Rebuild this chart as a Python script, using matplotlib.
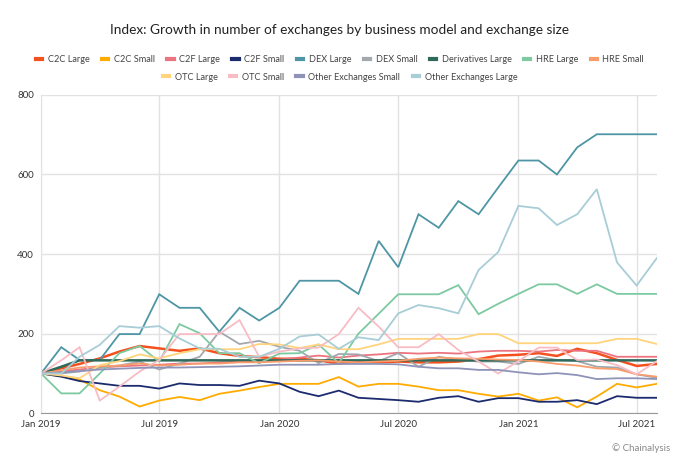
import matplotlib
matplotlib.use("Agg")
import matplotlib.pyplot as plt
import matplotlib.dates as mdates
from matplotlib.lines import Line2D
import pandas as pd

months = pd.date_range("2019-01-01", "2021-08-01", freq="MS")

c2c_large = [100,113,124,138,155,169,163,157,163,151,144,141,137,137,133,125,130,128,130,128,128,130,136,145,147,151,144,162,151,134,119,124]
c2c_small = [100,93,85,58,42,17,32,41,33,49,57,66,74,74,74,91,67,74,74,67,58,58,49,42,49,32,40,15,42,74,65,74]
c2f_large = [100,105,110,115,118,120,122,125,125,128,130,132,135,140,145,140,145,148,152,150,152,150,155,157,157,155,159,157,157,142,142,142]
c2f_small = [100,92,81,75,69,69,62,75,71,71,69,82,75,54,43,57,39,36,33,29,39,43,29,38,38,29,29,33,23,43,39,39]
dex_large = [100,166,134,134,199,199,299,265,265,205,265,233,265,333,333,333,300,433,367,500,466,533,500,567,635,635,600,668,701,701,701,701]
dex_small = [100,100,105,115,120,130,110,125,142,205,174,182,167,157,126,149,148,131,151,117,142,134,130,130,124,142,134,131,117,115,98,89]
deriv_large = [100,117,133,133,133,133,133,133,133,133,133,133,133,133,133,133,133,133,133,133,133,133,133,133,133,133,133,133,133,133,133,133]
hre_large = [100,50,50,100,151,169,130,224,201,151,151,126,150,151,173,126,200,250,299,299,299,322,249,275,300,324,324,300,324,300,300,300]
hre_small = [100,108,115,118,120,125,120,122,125,125,128,128,130,132,133,130,128,130,132,137,140,138,137,135,134,130,124,120,113,111,98,92]
otc_large = [100,95,88,121,131,148,138,151,161,161,161,174,173,164,173,161,161,173,187,187,187,187,199,199,176,176,176,176,176,187,187,174]
otc_small = [100,133,166,32,67,105,134,199,199,199,234,142,155,163,165,199,265,218,166,166,199,159,130,100,131,165,165,134,135,121,98,131]
other_small = [100,103,106,110,112,114,115,115,116,117,118,120,122,122,122,124,124,124,123,117,113,113,109,109,103,98,101,96,86,88,88,86]
other_large = [100,100,142,172,219,215,219,188,163,162,142,142,162,193,198,162,191,184,251,272,264,251,360,405,521,515,473,500,563,379,321,390]

series = [
    ("C2C Large", c2c_large, "#f4511e", 1.8),
    ("C2C Small", c2c_small, "#ffab00", 1.3),
    ("C2F Large", c2f_large, "#ec7480", 1.3),
    ("C2F Small", c2f_small, "#1c2b6e", 1.3),
    ("DEX Large", dex_large, "#4e96a5", 1.3),
    ("DEX Small", dex_small, "#a3a7ae", 1.3),
    ("Derivatives Large", deriv_large, "#2f6b5b", 1.8),
    ("HRE Large", hre_large, "#7dc9a1", 1.3),
    ("HRE Small", hre_small, "#f99c6c", 1.3),
    ("OTC Large", otc_large, "#ffd47c", 1.3),
    ("OTC Small", otc_small, "#f8bcc4", 1.3),
    ("Other Exchanges Small", other_small, "#8f93b8", 1.3),
    ("Other Exchanges Large", other_large, "#a8cdd6", 1.3),
]

plt.rcParams['font.family'] = ['Lato', 'DejaVu Sans']

fig = plt.figure(figsize=(6.8, 4.67), dpi=100)
ax = fig.add_axes([0.0603, 0.115, 0.9057, 0.6819])

for name, vals, color, lw in series:
    ax.plot(months, vals, color=color, lw=lw, label=name, solid_joinstyle="miter")

ax.set_ylim(0, 800)
ax.set_yticks([0, 200, 400, 600, 800])
ax.set_xlim(months[0], months[-1])
ticks = pd.to_datetime(["2019-01-01", "2019-07-01", "2020-01-01", "2020-07-01", "2021-01-01", "2021-07-01"])
ax.set_xticks(ticks)
ax.set_xticklabels(["Jan 2019", "Jul 2019", "Jan 2020", "Jul 2020", "Jan 2021", "Jul 2021"])
ax.grid(True, color="#e2e2e2", lw=1)
ax.set_axisbelow(True)
for s in ["top", "right"]:
    ax.spines[s].set_visible(False)
ax.spines["left"].set_color("#e2e2e2")
ax.spines["bottom"].set_color("#999999")
ax.tick_params(axis="both", length=0, labelsize=7, colors="#333333", pad=5)

fig.text(0.5, 0.936, "Index: Growth in number of exchanges by business model and exchange size",
         ha="center", va="center", fontsize=9.8, color="#222222")

handles = [Line2D([0], [0], color=c, lw=3) for _, _, c, _ in series]
labels = [n for n, _, _, _ in series]
kw = dict(frameon=False, fontsize=6.6, handlelength=0.7, handletextpad=0.6, columnspacing=1.35,
          labelcolor="#444444")
leg1 = fig.legend(handles[:9], labels[:9], ncol=9, loc="center", bbox_to_anchor=(0.5, 0.872), **kw)
leg2 = fig.legend(handles[9:], labels[9:], ncol=4, loc="center", bbox_to_anchor=(0.5, 0.835), **kw)

fig.text(0.985, 0.04, "© Chainalysis", ha="right", va="center", fontsize=7, color="#888888")

fig.savefig("out.png", dpi=100)
